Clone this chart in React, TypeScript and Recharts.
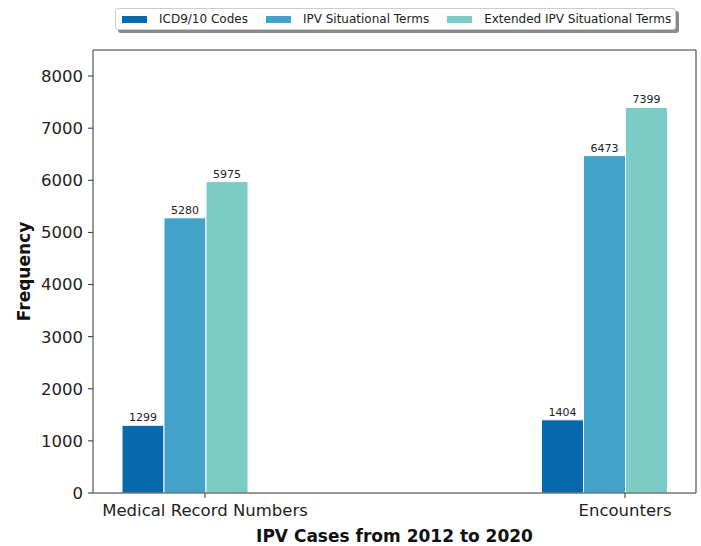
import React from 'react';
import { BarChart, Bar, XAxis, YAxis, LabelList } from 'recharts';

const categories = ['Medical Record Numbers', 'Encounters'];
const icdCodes = [1299, 1404];
const ipvTerms = [5280, 6473];
const extendedTerms = [5975, 7399];
const yTicks = [0, 1000, 2000, 3000, 4000, 5000, 6000, 7000, 8000];

const series = [
  { key: 'icd', name: 'ICD9/10 Codes', color: '#0868ac' },
  { key: 'ipv', name: 'IPV Situational Terms', color: '#43a2ca' },
  { key: 'ext', name: 'Extended IPV Situational Terms', color: '#7bccc4' },
];

const data = categories.map((name, i) => ({
  name,
  icd: icdCodes[i],
  ipv: ipvTerms[i],
  ext: extendedTerms[i],
}));

const font = '"DejaVu Sans", sans-serif';
const axisColor = '#333';

function LegendBox() {
  return (
    <div
      style={{
        position: 'absolute',
        left: 115,
        top: 8,
        width: 561,
        height: 22,
        boxSizing: 'border-box',
        border: '1px solid #ccc',
        borderRadius: 3,
        background: '#fff',
        boxShadow: '3px 3px 0 #8a8a8a',
        display: 'flex',
        alignItems: 'center',
        fontFamily: font,
        fontSize: 12,
        color: '#222',
      }}
    >
      {series.map((s, i) => (
        <div key={s.key} style={{ display: 'flex', alignItems: 'center', marginLeft: i === 0 ? 6 : 18 }}>
          <span style={{ display: 'inline-block', width: 25, height: 7, background: s.color, marginRight: 12 }} />
          <span>{s.name}</span>
        </div>
      ))}
    </div>
  );
}

export default function App() {
  return (
    <div style={{ position: 'absolute', left: 0, top: 0, width: 701, height: 546, background: '#fff' }}>
      <LegendBox />
      <BarChart
        width={701}
        height={546}
        data={data}
        barGap={0}
        margin={{ top: 49, right: 4, bottom: 0, left: 0 }}
        style={{ fontFamily: font }}
      >
        <XAxis xAxisId="bars" dataKey="name" hide height={0} padding={{ left: -118, right: -118 }} />
        <XAxis
          xAxisId="labels"
          dataKey="name"
          height={53}
          padding={{ left: -98, right: -139 }}
          axisLine={{ stroke: axisColor }}
          tickLine={{ stroke: axisColor }}
          tick={{ fill: '#222', fontSize: 16.5 }}
          tickSize={5}
          tickMargin={6}
          label={{ value: 'IPV Cases from 2012 to 2020', position: 'insideBottom', offset: 4, fill: '#111', fontSize: 17, fontWeight: 'bold' }}
        />
        <XAxis xAxisId="top" orientation="top" dataKey="name" height={1} tick={false} tickLine={false} axisLine={{ stroke: axisColor }} />
        <YAxis
          domain={[0, 8500]}
          ticks={yTicks}
          width={93}
          axisLine={{ stroke: axisColor }}
          tickLine={{ stroke: axisColor }}
          tick={{ fill: '#222', fontSize: 16.5 }}
          tickSize={5}
          tickMargin={5}
          label={{ value: 'Frequency', angle: -90, position: 'insideLeft', dx: 19, fill: '#111', fontSize: 17, fontWeight: 'bold', style: { textAnchor: 'middle' } }}
        />
        <YAxis yAxisId="right" orientation="right" width={1} domain={[0, 8500]} tick={false} tickLine={false} axisLine={{ stroke: axisColor }} />
        {series.map((s) => (
          <Bar key={s.key} xAxisId="bars" dataKey={s.key} name={s.name} fill={s.color} barSize={42} stroke="#fff" strokeWidth={1} isAnimationActive={false}>
            <LabelList dataKey={s.key} position="top" offset={4} fill="#222" fontSize={11} />
          </Bar>
        ))}
      </BarChart>
    </div>
  );
}
